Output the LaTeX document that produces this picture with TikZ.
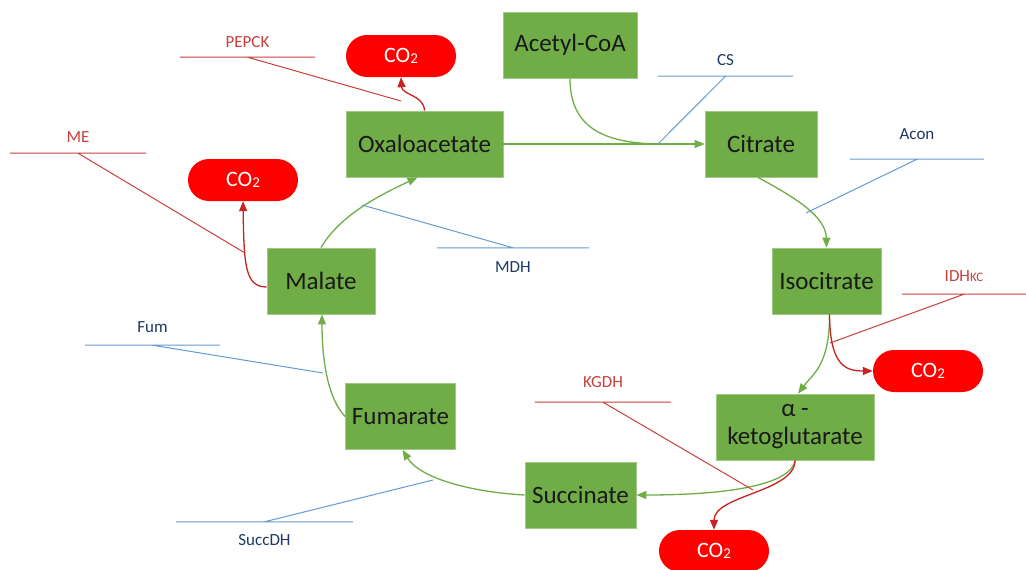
\documentclass[tikz,border=0pt]{standalone}
\usepackage{fontspec}
\setmainfont{Carlito}
\usetikzlibrary{arrows.meta}

\definecolor{metgreen}{RGB}{112,173,71}
\definecolor{metedge}{RGB}{160,200,135}
\definecolor{cored}{RGB}{255,0,0}
\definecolor{lossred}{RGB}{200,35,35}
\definecolor{enzblue}{RGB}{100,155,210}
\definecolor{enzbluetext}{RGB}{32,56,100}
\definecolor{enzred}{RGB}{200,65,60}

\tikzset{
  metab/.style={draw=metedge,line width=0.8pt,fill=metgreen,text=black!90,
    font=\fontsize{25}{28}\selectfont,minimum height=66pt,inner sep=0pt,align=center},
  cotwo/.style={fill=cored,text=white,rounded corners=21pt,minimum width=110pt,
    minimum height=42pt,inner sep=0pt,font=\fontsize{22}{22}\selectfont},
  enz/.style={inner sep=0pt,font=\fontsize{17}{17}\selectfont},
  bluelab/.style={enz,text=enzbluetext},
  redlab/.style={enz,text=enzred},
  bluebar/.style={draw=enzblue,line width=1pt},
  redbar/.style={draw=enzred,line width=1pt},
  flux/.style={draw=metgreen,line width=1.3pt,-{Triangle[length=10pt,width=8pt]}},
  loss/.style={draw=lossred,line width=1.3pt,-{Triangle[length=10pt,width=8pt]}}
}
\newcommand{\metab}[4][]{\node[metab,#1] at (#2) (#3) {#4}}
\newcommand{\cotwo}[2]{\node[cotwo] at (#1) (#2) {CO\raisebox{-0.15ex}{\fontsize{15}{15}\selectfont 2}}}
\newcommand{\enzyme}[4][]{\node[#1] at (#2) (#3) {#4}}

\begin{document}
\begin{tikzpicture}[x=1pt,y=-1pt]
  \useasboundingbox[fill=white] (0,0) rectangle (1026,570);

  \metab[minimum width=134pt]{570,45}{acoa}{Acetyl-CoA};
  \metab[minimum width=157pt]{424.5,144}{oxa}{Oxaloacetate};
  \metab[minimum width=112pt]{761,144}{cit}{Citrate};
  \metab[minimum width=109pt]{826.5,281}{iso}{Isocitrate};
  \metab[minimum width=158pt]{795,427}{akg}{α -\\ketoglutarate};
  \metab[minimum width=111pt]{580.5,495}{succ}{Succinate};
  \metab[minimum width=110pt]{400.5,416.5}{fum}{Fumarate};
  \metab[minimum width=108pt]{321,281}{mal}{Malate};

  \cotwo{401,56}{co2t};
  \cotwo{243,180}{co2l};
  \cotwo{928,371}{co2r};
  \cotwo{714,551}{co2b};

  \coordinate (join) at (662,144);
  \draw[flux] (oxa.east) -- (cit.west);
  \draw[flux,-] (acoa.south) .. controls (570,125) and (600,144) .. (join);
  \draw[flux] ([xshift=-3pt]cit.south) .. controls (790,195) and (826,215) .. (iso.north);
  \draw[flux] ([xshift=3pt]iso.south) .. controls (830,365) and (812,375) .. ([xshift=3pt]akg.north);
  \draw[flux] (akg.south) .. controls (792,482) and (740,495) .. (succ.east);
  \draw[flux] (succ.west) .. controls (470,492) and (420,478) .. ([xshift=2pt]fum.south);
  \draw[flux] (fum.west) .. controls (325,395) and (322,350) .. ([xshift=1pt]mal.south);
  \draw[flux] (mal.north) .. controls (340,215) and (380,195) .. ([xshift=-7pt]oxa.south);

  \draw[loss] (oxa.north) .. controls (424,95) and (402,95) .. (co2t.south);
  \draw[loss] ([yshift=-6pt]mal.west) .. controls (245,287) and (244,265) .. (co2l.south);
  \draw[loss] ([xshift=3pt]iso.south) .. controls (830,365) and (845,371) .. (co2r.west);
  \draw[loss] (akg.south) .. controls (795,492) and (714,495) .. (co2b.north);

  \coordinate (pepck-hit) at (401,101);
  \coordinate (cs-hit) at (658,144);
  \coordinate (acon-hit) at (806,213);
  \coordinate (idh-hit) at (830,343);
  \coordinate (kgdh-hit) at (753,490);
  \coordinate (me-hit) at (245,253);
  \coordinate (fumh-hit) at (323,373);
  \coordinate (sdh-hit) at (433,480);
  \coordinate (mdh-hit) at (362,205);

  \enzyme[redlab,minimum width=135pt,minimum height=30pt]{247.5,42}{pepck}{PEPCK};
  \enzyme[bluelab,minimum width=135pt,minimum height=32pt]{725.5,60}{cs}{CS};
  \enzyme[bluelab,minimum width=134pt,minimum height=50pt]{917,134}{acon}{Acon};
  \enzyme[redlab,minimum width=124pt,minimum height=36pt]{964,276}{idh}{IDH{\fontsize{13}{13}\selectfont KC}};
  \enzyme[redlab,minimum width=136pt,minimum height=40pt]{603,382}{kgdh}{KGDH};
  \enzyme[redlab,minimum width=136pt,minimum height=32pt]{78,137}{me}{ME};
  \enzyme[bluelab,minimum width=135pt,minimum height=36pt]{152.5,327}{fumh}{Fum};
  \enzyme[bluelab,minimum width=177pt,minimum height=36pt]{264.5,540}{sdh}{SuccDH};
  \enzyme[bluelab,minimum width=152pt,minimum height=38pt]{513,267}{mdh}{MDH};

  \draw[redbar] (pepck.south west) -- (pepck.south east) (pepck.south) -- (pepck-hit);
  \draw[bluebar] (cs.south west) -- (cs.south east) (cs.south) -- (cs-hit);
  \draw[bluebar] (acon.south west) -- (acon.south east) (acon.south) -- (acon-hit);
  \draw[redbar] (idh.south west) -- (idh.south east) (idh.south) -- (idh-hit);
  \draw[redbar] (kgdh.south west) -- (kgdh.south east) (kgdh.south) -- (kgdh-hit);
  \draw[redbar] (me.south west) -- (me.south east) (me.south) -- (me-hit);
  \draw[bluebar] (fumh.south west) -- (fumh.south east) (fumh.south) -- (fumh-hit);
  \draw[bluebar] (sdh.north west) -- (sdh.north east) (sdh.north) -- (sdh-hit);
  \draw[bluebar] (mdh.north west) -- (mdh.north east) (mdh.north) -- (mdh-hit);
\end{tikzpicture}
\end{document}
